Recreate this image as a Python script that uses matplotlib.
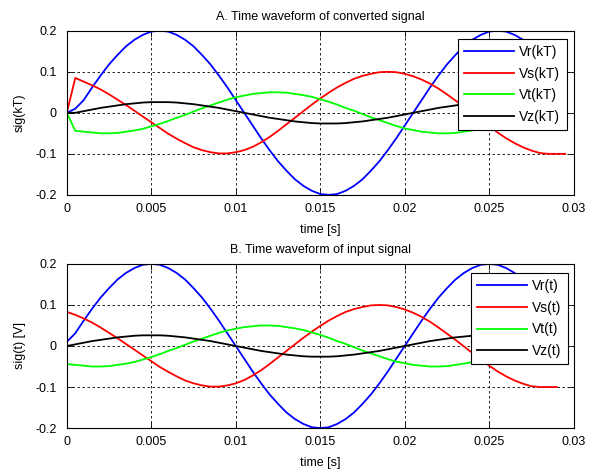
import matplotlib
matplotlib.use("Agg")
import matplotlib.pyplot as plt

plt.rcParams["font.family"] = ["Liberation Sans", "DejaVu Sans"]

# sample times of the input signal [s]
t_input = [0.0000, 0.0005, 0.0010, 0.0015, 0.0020, 0.0025, 0.0030, 0.0035, 0.0040, 0.0045,
           0.0050, 0.0055, 0.0060, 0.0065, 0.0070, 0.0075, 0.0080, 0.0085, 0.0090, 0.0095,
           0.0100, 0.0105, 0.0110, 0.0115, 0.0120, 0.0125, 0.0130, 0.0135, 0.0140, 0.0145,
           0.0150, 0.0155, 0.0160, 0.0165, 0.0170, 0.0175, 0.0180, 0.0185, 0.0190, 0.0195,
           0.0200, 0.0205, 0.0210, 0.0215, 0.0220, 0.0225, 0.0230, 0.0235, 0.0240, 0.0245,
           0.0250, 0.0255, 0.0260, 0.0265, 0.0270, 0.0275, 0.0280, 0.0285, 0.0290]
# sample instants kT of the converted signal [s]
t_conv = [0.0000, 0.0005, 0.0010, 0.0015, 0.0020, 0.0025, 0.0030, 0.0035, 0.0040, 0.0045,
          0.0050, 0.0055, 0.0060, 0.0065, 0.0070, 0.0075, 0.0080, 0.0085, 0.0090, 0.0095,
          0.0100, 0.0105, 0.0110, 0.0115, 0.0120, 0.0125, 0.0130, 0.0135, 0.0140, 0.0145,
          0.0150, 0.0155, 0.0160, 0.0165, 0.0170, 0.0175, 0.0180, 0.0185, 0.0190, 0.0195,
          0.0200, 0.0205, 0.0210, 0.0215, 0.0220, 0.0225, 0.0230, 0.0235, 0.0240, 0.0245,
          0.0250, 0.0255, 0.0260, 0.0265, 0.0270, 0.0275, 0.0280, 0.0285, 0.0290, 0.0295]

# B. input signal
vr_in = [0.010, 0.031, 0.062, 0.091, 0.118, 0.141, 0.162, 0.178, 0.190, 0.198,
         0.200, 0.198, 0.190, 0.178, 0.162, 0.141, 0.118, 0.091, 0.062, 0.031,
         0.000, -0.031, -0.062, -0.091, -0.118, -0.141, -0.162, -0.178, -0.190, -0.198,
         -0.200, -0.198, -0.190, -0.178, -0.162, -0.141, -0.118, -0.091, -0.062, -0.031,
         0.000, 0.031, 0.062, 0.091, 0.118, 0.141, 0.162, 0.178, 0.190, 0.198,
         0.200, 0.198, 0.190, 0.178, 0.162, 0.141, 0.118, 0.091, 0.062]
vs_in = [0.083, 0.076, 0.067, 0.057, 0.045, 0.032, 0.019, 0.005, -0.009, -0.023,
         -0.037, -0.051, -0.063, -0.074, -0.084, -0.091, -0.096, -0.099, -0.099, -0.096,
         -0.091, -0.083, -0.072, -0.059, -0.044, -0.028, -0.012, 0.004, 0.020, 0.035,
         0.049, 0.062, 0.073, 0.083, 0.090, 0.095, 0.099, 0.100, 0.099, 0.095,
         0.089, 0.081, 0.071, 0.059, 0.045, 0.030, 0.015, -0.001, -0.017, -0.033,
         -0.048, -0.062, -0.074, -0.084, -0.092, -0.098, -0.100, -0.100, -0.100]
vt_in = [-0.044, -0.046, -0.048, -0.050, -0.050, -0.049, -0.046, -0.043, -0.039, -0.033,
         -0.027, -0.020, -0.012, -0.005, 0.003, 0.011, 0.018, 0.025, 0.032, 0.038,
         0.042, 0.046, 0.048, 0.050, 0.050, 0.049, 0.046, 0.043, 0.039, 0.033,
         0.027, 0.020, 0.012, 0.005, -0.003, -0.011, -0.018, -0.025, -0.032, -0.038,
         -0.042, -0.046, -0.048, -0.050, -0.050, -0.049, -0.046, -0.043, -0.039, -0.033,
         -0.027, -0.020, -0.012, -0.005, 0.003, 0.011, 0.018, 0.025, 0.032]
vz_in = [0.000, 0.004, 0.008, 0.012, 0.015, 0.018, 0.021, 0.023, 0.025, 0.026,
         0.026, 0.026, 0.025, 0.023, 0.021, 0.018, 0.015, 0.012, 0.008, 0.004,
         0.000, -0.004, -0.008, -0.012, -0.015, -0.018, -0.021, -0.023, -0.025, -0.026,
         -0.026, -0.026, -0.025, -0.023, -0.021, -0.018, -0.015, -0.012, -0.008, -0.004,
         0.000, 0.004, 0.008, 0.012, 0.015, 0.018, 0.021, 0.023, 0.025, 0.026,
         0.026, 0.026, 0.025, 0.023, 0.021, 0.018, 0.015, 0.012, 0.008]

# A. converted signal (starts from zero, one sample behind the input)
vr_conv = [0.000, 0.010, 0.031, 0.062, 0.091, 0.118, 0.141, 0.162, 0.178, 0.190,
           0.198, 0.200, 0.198, 0.190, 0.178, 0.162, 0.141, 0.118, 0.091, 0.062,
           0.031, 0.000, -0.031, -0.062, -0.091, -0.118, -0.141, -0.162, -0.178, -0.190,
           -0.198, -0.200, -0.198, -0.190, -0.178, -0.162, -0.141, -0.118, -0.091, -0.062,
           -0.031, 0.000, 0.031, 0.062, 0.091, 0.118, 0.141, 0.162, 0.178, 0.190,
           0.198, 0.200, 0.198, 0.190, 0.178, 0.162, 0.141, 0.118, 0.091, 0.062]
vs_conv = [0.000, 0.085, 0.076, 0.067, 0.057, 0.045, 0.032, 0.019, 0.005, -0.009,
           -0.023, -0.037, -0.051, -0.063, -0.074, -0.084, -0.091, -0.096, -0.099, -0.099,
           -0.096, -0.091, -0.083, -0.072, -0.059, -0.044, -0.028, -0.012, 0.004, 0.020,
           0.035, 0.049, 0.062, 0.073, 0.083, 0.090, 0.095, 0.099, 0.100, 0.099,
           0.095, 0.089, 0.081, 0.071, 0.059, 0.045, 0.030, 0.015, -0.001, -0.017,
           -0.033, -0.048, -0.062, -0.074, -0.084, -0.092, -0.098, -0.100, -0.100, -0.100]
vt_conv = [0.000, -0.044, -0.046, -0.048, -0.050, -0.050, -0.049, -0.046, -0.043, -0.039,
           -0.033, -0.027, -0.020, -0.012, -0.005, 0.003, 0.011, 0.018, 0.025, 0.032,
           0.038, 0.042, 0.046, 0.048, 0.050, 0.050, 0.049, 0.046, 0.043, 0.039,
           0.033, 0.027, 0.020, 0.012, 0.005, -0.003, -0.011, -0.018, -0.025, -0.032,
           -0.038, -0.042, -0.046, -0.048, -0.050, -0.050, -0.049, -0.046, -0.043, -0.039,
           -0.033, -0.027, -0.020, -0.012, -0.005, 0.003, 0.011, 0.018, 0.025, 0.032]
vz_conv = [0.000, 0.000, 0.004, 0.008, 0.012, 0.015, 0.018, 0.021, 0.023, 0.025,
           0.026, 0.026, 0.026, 0.025, 0.023, 0.021, 0.018, 0.015, 0.012, 0.008,
           0.004, 0.000, -0.004, -0.008, -0.012, -0.015, -0.018, -0.021, -0.023, -0.025,
           -0.026, -0.026, -0.026, -0.025, -0.023, -0.021, -0.018, -0.015, -0.012, -0.008,
           -0.004, 0.000, 0.004, 0.008, 0.012, 0.015, 0.018, 0.021, 0.023, 0.025,
           0.026, 0.026, 0.026, 0.025, 0.023, 0.021, 0.018, 0.015, 0.012, 0.008]

x_ticks = [0, 0.005, 0.01, 0.015, 0.02, 0.025, 0.03]
x_ticklabels = ["0", "0.005", "0.01", "0.015", "0.02", "0.025", "0.03"]
y_ticks = [-0.2, -0.1, 0, 0.1, 0.2]
y_ticklabels = ["-0.2", "-0.1", "0", "0.1", "0.2"]

colors = ["#0000ff", "#ff0000", "#00ff00", "#000000"]
FS = 9


def style_axes(ax, title, ylabel):
    ax.set_xlim(0, 0.03)
    ax.set_ylim(-0.2, 0.2)
    ax.set_xticks(x_ticks)
    ax.set_xticklabels(x_ticklabels)
    ax.set_yticks(y_ticks)
    ax.set_yticklabels(y_ticklabels)
    ax.tick_params(direction="in", length=4, width=0.6, top=True, right=True,
                   labelsize=FS)
    ax.tick_params(axis="x", pad=6)
    ax.tick_params(axis="y", pad=7.5)
    ax.grid(True, color="black", linestyle=(0, (3, 3)), linewidth=0.6)
    for s in ax.spines.values():
        s.set_linewidth(0.8)
    ax.set_title(title, fontsize=FS, pad=8)
    ax.set_xlabel("time [s]", fontsize=FS, labelpad=6.5)
    ax.set_ylabel(ylabel, fontsize=FS, labelpad=6.5)


fig = plt.figure(figsize=(6.02, 4.73), dpi=100)
ax1 = fig.add_axes([0.111, 0.588, 0.842, 0.347])
ax2 = fig.add_axes([0.111, 0.095, 0.842, 0.347])

for y, c, name in zip([vr_conv, vs_conv, vt_conv, vz_conv], colors,
                      ["Vr(kT)", "Vs(kT)", "Vt(kT)", "Vz(kT)"]):
    ax1.plot(t_conv, y, color=c, linewidth=1.3, label=name)
style_axes(ax1, "A. Time waveform of converted signal", "sig(kT)")

for y, c, name in zip([vr_in, vs_in, vt_in, vz_in], colors,
                      ["Vr(t)", "Vs(t)", "Vt(t)", "Vz(t)"]):
    ax2.plot(t_input, y, color=c, linewidth=1.3, label=name)
style_axes(ax2, "B. Time waveform of input signal", "sig(t) [V]")

for ax, anchor in [(ax1, (0.986, 0.951)), (ax2, (0.988, 0.945))]:
    leg = ax.legend(loc="upper right", bbox_to_anchor=anchor, fontsize=10,
                    fancybox=False, framealpha=1, edgecolor="black",
                    handlelength=3.6, handletextpad=0.35, labelspacing=0.55,
                    borderpad=0.45, borderaxespad=0)
    leg.get_frame().set_linewidth(0.8)

fig.savefig("out.png", dpi=100)
